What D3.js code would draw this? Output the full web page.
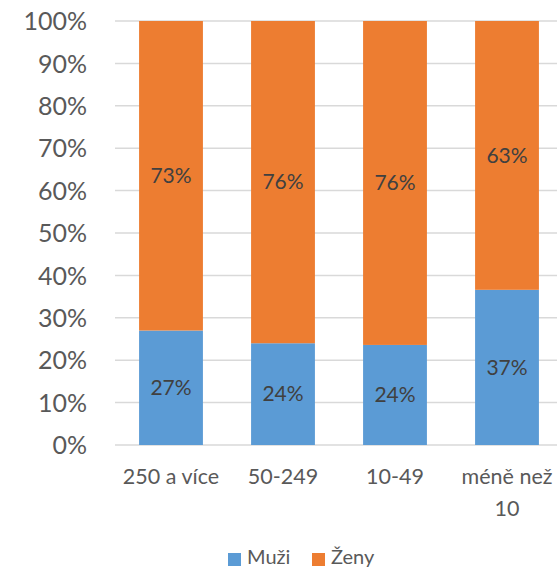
<!DOCTYPE html>
<html>
<head>
<meta charset="utf-8">
<script src="https://cdn.jsdelivr.net/npm/d3@7"></script>
<style>
  html, body { margin: 0; padding: 0; background: #fff; }
  svg { display: block; }
</style>
</head>
<body>
<svg id="chart" width="557" height="569"></svg>
<script>
const categories = ["250 a více", "50-249", "10-49", "méně než 10"];
const categoryLines = [["250 a více"], ["50-249"], ["10-49"], ["méně než", "10"]];
const seriesNames = ["Muži", "Ženy"];
const muzi = [27.0, 24.0, 23.6, 36.6];
const zeny = [73.0, 76.0, 76.4, 63.4];
const yTicks = [0, 10, 20, 30, 40, 50, 60, 70, 80, 90, 100];
const colors = ["#5B9BD5", "#ED7D31"];
const font = "Lato, 'Open Sans', sans-serif";

const svg = d3.select("#chart");
const margin = { left: 115, top: 21, bottom: 124 };
const plotW = 448;
const y0 = 445, y1 = 21;

const x = d3.scaleBand().domain(categories).range([margin.left, margin.left + plotW]).paddingInner(0.43).paddingOuter(0.215);
const y = d3.scaleLinear().domain([0, 100]).range([y0, y1]);

// gridlines
svg.append("g").selectAll("line").data(yTicks).join("line")
  .attr("x1", margin.left).attr("x2", 557)
  .attr("y1", d => y(d)).attr("y2", d => y(d))
  .attr("stroke", "#d9d9d9").attr("stroke-width", 1.5);

// y axis labels
const yAxis = d3.axisLeft(y).tickValues(yTicks).tickFormat(d => d + "%").tickSize(0).tickPadding(0);
const ya = svg.append("g").attr("transform", "translate(87,0)").call(yAxis);
ya.select(".domain").remove();
ya.selectAll("text").attr("font-family", font).attr("font-size", 25).attr("fill", "#595959").attr("dy", "0.35em");

// stacked data
const rows = categories.map((c, i) => ({ cat: c, "Muži": muzi[i], "Ženy": zeny[i] }));
const stack = d3.stack().keys(seriesNames)(rows);

const layers = svg.append("g").selectAll("g").data(stack).join("g")
  .attr("fill", (d, i) => colors[i]);
layers.selectAll("rect").data(d => d).join("rect")
  .attr("x", d => x(d.data.cat))
  .attr("width", x.bandwidth())
  .attr("y", d => y(d[1]))
  .attr("height", d => y(d[0]) - y(d[1]));

// data labels
layers.selectAll("text").data(d => d).join("text")
  .attr("x", d => x(d.data.cat) + x.bandwidth() / 2)
  .attr("y", d => (y(d[0]) + y(d[1])) / 2)
  .attr("dy", "0.35em")
  .attr("text-anchor", "middle")
  .attr("font-family", font).attr("font-size", 21).attr("fill", "#404040")
  .text(d => Math.round(d[1] - d[0]) + "%");

// x labels
const xl = svg.append("g").selectAll("text").data(categories).join("text")
  .attr("text-anchor", "middle")
  .attr("font-family", font).attr("font-size", 21.5).attr("fill", "#595959")
  .attr("x", d => x(d) + x.bandwidth() / 2)
  .attr("y", 476.5);
xl.selectAll("tspan").data((d, i) => categoryLines[i]).join("tspan")
  .attr("x", function() { return d3.select(this.parentNode).attr("x"); })
  .attr("dy", (d, i) => i === 0 ? "0.35em" : 31.5)
  .text(d => d);

// legend
const legendItems = [{ name: seriesNames[0], color: colors[0], x: 228 }, { name: seriesNames[1], color: colors[1], x: 312 }];
const lg = svg.append("g").selectAll("g").data(legendItems).join("g")
  .attr("transform", d => `translate(${d.x},553)`);
lg.append("rect").attr("width", 13).attr("height", 13).attr("fill", d => d.color);
lg.append("text").attr("x", 19).attr("y", 4).attr("dy", "0.35em")
  .attr("font-family", font).attr("font-size", 20).attr("fill", "#595959")
  .text(d => d.name);
</script>
</body>
</html>
